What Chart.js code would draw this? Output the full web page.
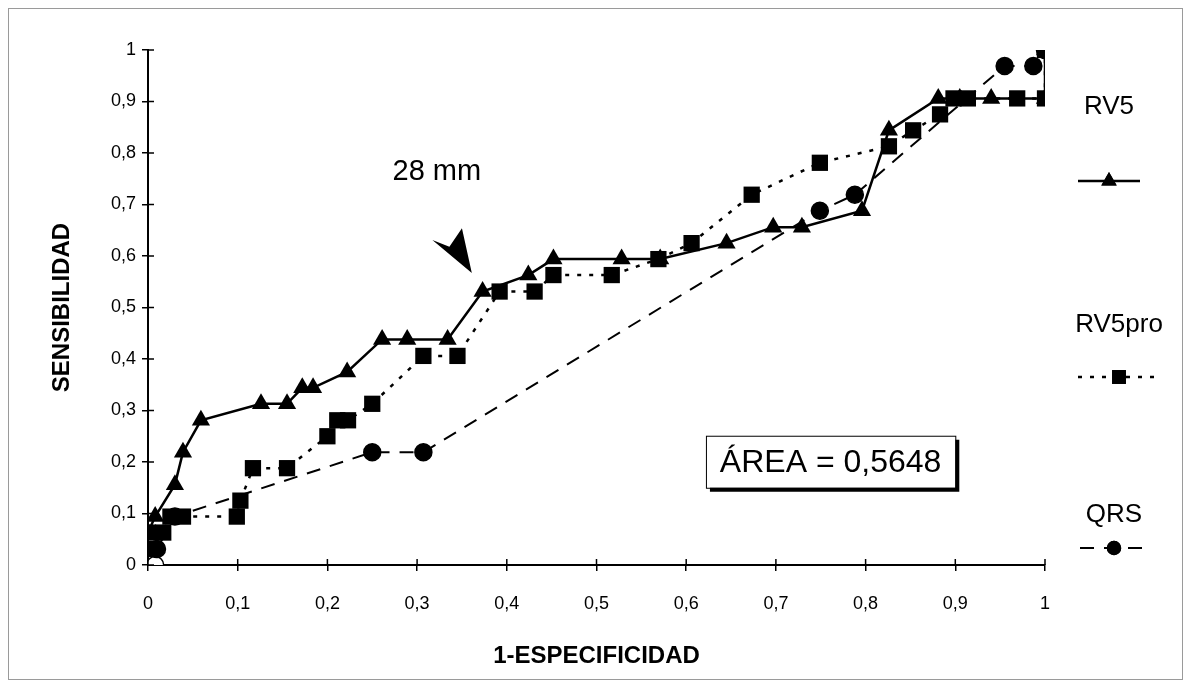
<!DOCTYPE html>
<html lang="es">
<head>
<meta charset="UTF-8">
<title>Curva ROC</title>
<script src="https://cdn.jsdelivr.net/npm/chart.js"></script>
<style>
  html, body { margin: 0; padding: 0; background: #fff; }
  #wrap { width: 1191px; height: 685px; position: relative; }
</style>
</head>
<body>
<div id="wrap"><canvas id="roc"></canvas></div>
<script>
// tick labels (decimal comma)
const xTickLabels = ['0', '0,1', '0,2', '0,3', '0,4', '0,5', '0,6', '0,7', '0,8', '0,9', '1'];
const yTickLabels = ['0', '0,1', '0,2', '0,3', '0,4', '0,5', '0,6', '0,7', '0,8', '0,9', '1'];

const seriesNames = ['RV5', 'RV5pro', 'QRS'];

// 1-especificidad / sensibilidad
const rv5X = [0, 0.008, 0.03, 0.039, 0.059, 0.126, 0.155, 0.172, 0.184, 0.222, 0.261, 0.289, 0.334, 0.373, 0.424, 0.452, 0.528, 0.571, 0.645, 0.697, 0.729, 0.796, 0.826, 0.881, 0.905, 0.94, 1, 1];
const rv5Y = [0.063, 0.094, 0.156, 0.219, 0.281, 0.313, 0.313, 0.344, 0.344, 0.375, 0.438, 0.438, 0.438, 0.531, 0.563, 0.594, 0.594, 0.594, 0.625, 0.656, 0.656, 0.688, 0.844, 0.906, 0.906, 0.906, 0.906, 1];

const rv5proX = [0, 0, 0.017, 0.025, 0.039, 0.099, 0.103, 0.117, 0.155, 0.2, 0.211, 0.223, 0.25, 0.307, 0.345, 0.392, 0.431, 0.452, 0.517, 0.569, 0.606, 0.673, 0.749, 0.826, 0.853, 0.883, 0.898, 0.914, 0.969, 1, 1];
const rv5proY = [0.031, 0.063, 0.063, 0.094, 0.094, 0.094, 0.125, 0.188, 0.188, 0.25, 0.281, 0.281, 0.313, 0.406, 0.406, 0.531, 0.531, 0.563, 0.563, 0.594, 0.625, 0.719, 0.781, 0.813, 0.844, 0.875, 0.906, 0.906, 0.906, 0.906, 1];

const qrsX = [0.008, 0.01, 0.03, 0.25, 0.307, 0.749, 0.788, 0.955, 0.987, 1];
const qrsY = [0, 0.031, 0.094, 0.219, 0.219, 0.688, 0.719, 0.969, 0.969, 1];

const areaText = 'ÁREA = 0,5648';
const arrowText = '28 mm';

const FONT = '"Liberation Sans", Arial, sans-serif';

function pts(xs, ys) {
    return xs.map((x, i) => ({ x: x, y: ys[i] }));
}

const datasets = [
    {
        label: seriesNames[0],
        data: pts(rv5X, rv5Y),
        borderColor: '#000', backgroundColor: '#000',
        borderWidth: 2.5,
        pointStyle: 'triangle', pointRadius: 10.5, pointBorderWidth: 0
    },
    {
        label: seriesNames[1],
        data: pts(rv5proX, rv5proY),
        borderColor: '#000', backgroundColor: '#000',
        borderWidth: 2.5, borderDash: [4, 8],
        pointStyle: 'rect', pointRadius: 11.5, pointBorderWidth: 0
    },
    {
        label: seriesNames[2],
        data: pts(qrsX, qrsY),
        borderColor: '#000', backgroundColor: '#000',
        pointBackgroundColor: qrsX.map((x, i) => i === 0 ? '#fff' : '#000'),
        pointBorderColor: '#000',
        borderWidth: 2, borderDash: [14, 10],
        pointStyle: 'circle', pointRadius: 8.5, pointBorderWidth: 1.5
    }
];

// legend, annotations, inner tick marks, frame
const extras = {
    id: 'extras',
    afterDraw(chart) {
        const ctx = chart.ctx;
        const xs = chart.scales.x, ys = chart.scales.y;
        ctx.save();

        // outer frame
        ctx.strokeStyle = '#9a9a9a';
        ctx.lineWidth = 1;
        ctx.strokeRect(8.5, 8.5, 1174, 671);

        // inward tick marks
        ctx.strokeStyle = '#000';
        ctx.lineWidth = 1.5;
        const x0 = xs.getPixelForValue(0), y0 = ys.getPixelForValue(0);
        for (let i = 0; i < xTickLabels.length; i++) {
            const px = xs.getPixelForValue(i / 10);
            ctx.beginPath(); ctx.moveTo(px, y0); ctx.lineTo(px, y0 - 6); ctx.stroke();
        }
        for (let i = 0; i < yTickLabels.length; i++) {
            const py = ys.getPixelForValue(i / 10);
            ctx.beginPath(); ctx.moveTo(x0, py); ctx.lineTo(x0 + 6, py); ctx.stroke();
        }

        // arrow pointing at the 28 mm cut-off
        ctx.fillStyle = '#000';
        ctx.beginPath();
        ctx.moveTo(xs.getPixelForValue(0.361), ys.getPixelForValue(0.567));
        ctx.lineTo(xs.getPixelForValue(0.317), ys.getPixelForValue(0.631));
        ctx.lineTo(xs.getPixelForValue(0.336), ys.getPixelForValue(0.618));
        ctx.lineTo(xs.getPixelForValue(0.350), ys.getPixelForValue(0.654));
        ctx.closePath();
        ctx.fill();

        ctx.font = '29px ' + FONT;
        ctx.textAlign = 'center';
        ctx.textBaseline = 'middle';
        ctx.fillText(arrowText, xs.getPixelForValue(0.322), ys.getPixelForValue(0.763));

        // area box with shadow
        const bx = xs.getPixelForValue(0.622), by = ys.getPixelForValue(0.251);
        const bw = xs.getPixelForValue(0.9) - bx, bh = ys.getPixelForValue(0.15) - by;
        ctx.fillStyle = '#000';
        ctx.fillRect(bx + 4, by + 4, bw, bh);
        ctx.fillStyle = '#fff';
        ctx.fillRect(bx, by, bw, bh);
        ctx.strokeStyle = '#000';
        ctx.lineWidth = 1;
        ctx.strokeRect(bx + 0.5, by + 0.5, bw, bh);
        ctx.fillStyle = '#000';
        ctx.font = '32px ' + FONT;
        ctx.fillText(areaText, bx + bw / 2, by + bh / 2 + 1);

        // legend
        const leg = [
            { ty: 107, ly: 181, x1: 1078, x2: 1140 },
            { ty: 325, ly: 377, x1: 1078, x2: 1160 },
            { ty: 515, ly: 548, x1: 1080, x2: 1148 }
        ];
        datasets.forEach((ds, i) => {
            const L = leg[i];
            const cx = (L.x1 + L.x2) / 2;
            ctx.fillStyle = '#000';
            ctx.font = '26px ' + FONT;
            ctx.textAlign = 'center';
            ctx.fillText(ds.label, cx, L.ty);
            ctx.strokeStyle = '#000';
            ctx.lineWidth = ds.borderWidth;
            ctx.setLineDash(ds.borderDash || []);
            ctx.beginPath(); ctx.moveTo(L.x1, L.ly); ctx.lineTo(L.x2, L.ly); ctx.stroke();
            ctx.setLineDash([]);
            Chart.helpers.drawPoint(ctx, {
                pointStyle: ds.pointStyle, radius: ds.pointRadius * 0.85, rotation: 0, borderWidth: 0
            }, cx, L.ly);
            ctx.fill();
        });
        ctx.restore();
    }
};

new Chart(document.getElementById('roc'), {
    type: 'scatter',
    data: { datasets: datasets },
    options: {
        responsive: true,
        maintainAspectRatio: false,
        animation: false,
        showLine: true,
        layout: { padding: { left: 0, top: 50, right: 146, bottom: 0 } },
        plugins: { legend: { display: false }, tooltip: { enabled: false } },
        scales: {
            x: {
                type: 'linear', min: 0, max: 1,
                afterFit: s => { s.height = 120; },
                ticks: {
                    stepSize: 0.1, color: '#000', padding: 22,
                    font: { family: FONT, size: 18 },
                    callback: (v, i) => xTickLabels[i]
                },
                grid: { drawOnChartArea: false, color: '#000', lineWidth: 1.5, tickLength: 6 },
                border: { display: true, color: '#000', width: 2 },
                title: {
                    display: true, text: '1-ESPECIFICIDAD', color: '#000',
                    font: { family: FONT, size: 24, weight: 'bold' },
                    padding: { bottom: 14 }
                }
            },
            y: {
                type: 'linear', min: 0, max: 1,
                afterFit: s => { s.width = 148; },
                ticks: {
                    stepSize: 0.1, color: '#000', padding: 6,
                    font: { family: FONT, size: 18 },
                    callback: (v, i) => yTickLabels[i]
                },
                grid: { drawOnChartArea: false, color: '#000', lineWidth: 1.5, tickLength: 6 },
                border: { display: true, color: '#000', width: 2 },
                title: {
                    display: true, text: 'SENSIBILIDAD', color: '#000',
                    font: { family: FONT, size: 24, weight: 'bold' },
                    padding: { top: 48 }
                }
            }
        }
    },
    plugins: [extras]
});
</script>
</body>
</html>
